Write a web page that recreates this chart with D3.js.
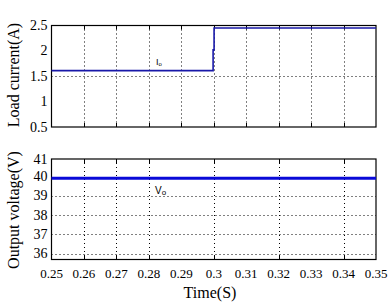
<!DOCTYPE html>
<html>
<head>
<meta charset="utf-8">
<script src="https://cdn.jsdelivr.net/npm/d3@7"></script>
<style>
  body { margin: 0; background: #fff; }
</style>
</head>
<body>
<div id="chart"></div>
<script>
// values
var timeTicks = [0.25, 0.26, 0.27, 0.28, 0.29, 0.30, 0.31, 0.32, 0.33, 0.34, 0.35];
var timeLabels = ["0.25", "0.26", "0.27", "0.28", "0.29", "0.3", "0.31", "0.32", "0.33", "0.34", "0.35"];
var bottomGridTimes = [0.26, 0.27, 0.28, 0.30, 0.32, 0.34];

var currentTime = [0.25, 0.2998, 0.3001, 0.35];
var currentVal = [1.61, 2.02, 2.45, 2.45];
var currentTicks = [0.5, 1, 1.5, 2, 2.5];
var currentGrid = [1.5];

var voltTime = [0.25, 0.35];
var voltVal = [39.9, 39.9];
var voltTicks = [36, 37, 38, 39, 40, 41];
var voltGrid = [36, 37, 38, 39];

var serif = "'Liberation Serif', 'Times New Roman', 'DejaVu Serif', serif";
var width = 390, height = 304;
var left = 51.5, right = 376;

var svg = d3.select("#chart")
  .append("svg")
  .attr("width", width)
  .attr("height", height)
  .attr("font-family", serif)

var x = d3.scaleLinear()
  .domain([0.25, 0.35])
  .range([left, right])

var yTop = d3.scaleLinear()
  .domain([0.5, 2.5])
  .range([127, 25.5])

var yBot = d3.scaleLinear()
  .domain([35.7, 40.9])
  .range([259.5, 159])
  .clamp(true)

function panel(y, ticks, grid, vgrid, xticks) {
  var g = svg.append("g")
  var y0 = y.range()[0], y1 = y.range()[1]

  // grid lines
  g.selectAll(".hg").data(grid).enter().append("line")
    .attr("x1", left).attr("x2", right)
    .attr("y1", function (d) { return Math.round(y(d)) + 0.5 })
    .attr("y2", function (d) { return Math.round(y(d)) + 0.5 })
    .attr("stroke", "#000").attr("stroke-width", 1)
    .attr("stroke-dasharray", "1,3")
  g.selectAll(".vg").data(vgrid).enter().append("line")
    .attr("x1", function (d) { return Math.round(x(d)) + 0.5 })
    .attr("x2", function (d) { return Math.round(x(d)) + 0.5 })
    .attr("y1", y1).attr("y2", y0)
    .attr("stroke", "#000").attr("stroke-width", 1)
    .attr("stroke-dasharray", "1,3")

  // tick marks on bottom and top edges
  g.selectAll(".xt").data(xticks).enter().append("line")
    .attr("x1", function (d) { return Math.round(x(d)) + 0.5 })
    .attr("x2", function (d) { return Math.round(x(d)) + 0.5 })
    .attr("y1", y0).attr("y2", y0 - 4)
    .attr("stroke", "#000")
  g.selectAll(".xt2").data(xticks).enter().append("line")
    .attr("x1", function (d) { return Math.round(x(d)) + 0.5 })
    .attr("x2", function (d) { return Math.round(x(d)) + 0.5 })
    .attr("y1", y1).attr("y2", y1 + 4)
    .attr("stroke", "#000")

  // y tick labels
  g.selectAll(".yl").data(ticks).enter().append("text")
    .attr("x", left - 4)
    .attr("y", function (d) { return y(d) + 4.5 })
    .attr("text-anchor", "end")
    .attr("font-size", 14)
    .text(function (d) { return d })

  // box
  g.append("rect")
    .attr("x", left).attr("y", y1)
    .attr("width", right - left).attr("height", y0 - y1)
    .attr("fill", "none").attr("stroke", "#000").attr("stroke-width", 1.2)
  return g
}

panel(yTop, currentTicks, currentGrid, timeTicks.slice(1, -1), timeTicks.slice(1, -1))
panel(yBot, voltTicks, voltGrid, bottomGridTimes, bottomGridTimes)

// load current trace
var curPts = currentTime.map(function (t, i) { return [t, currentVal[i]] })
svg.append("path")
  .datum(curPts)
  .attr("fill", "none")
  .attr("stroke", "#1818a8")
  .attr("stroke-width", 1.6)
  .attr("d", d3.line()
    .x(function (d) { return x(d[0]) })
    .y(function (d) { return yTop(d[1]) })
    .curve(d3.curveStepAfter))

// output voltage trace
var voltPts = voltTime.map(function (t, i) { return [t, voltVal[i]] })
svg.append("path")
  .datum(voltPts)
  .attr("fill", "none")
  .attr("stroke", "#0a0ad8")
  .attr("stroke-width", 3)
  .attr("d", d3.line()
    .x(function (d) { return x(d[0]) })
    .y(function (d) { return yBot(d[1]) }))

// series labels
svg.append("text").attr("x", 156).attr("y", 65)
  .attr("font-family", "Arial, 'Liberation Sans', sans-serif").attr("font-size", 9)
  .html('I<tspan font-size="6px" dy="1">o</tspan>')
svg.append("text").attr("x", 155).attr("y", 194)
  .attr("font-family", "Arial, 'Liberation Sans', sans-serif").attr("font-size", 10)
  .html('V<tspan font-size="8px" dy="1">o</tspan>')

// x tick labels
svg.selectAll(".xlab").data(timeTicks).enter().append("text")
  .attr("x", function (d) { return x(d) })
  .attr("y", 278)
  .attr("text-anchor", "middle")
  .attr("font-size", 13)
  .text(function (d, i) { return timeLabels[i] })

// axis titles
svg.append("text")
  .attr("x", 210).attr("y", 298)
  .attr("text-anchor", "middle")
  .attr("font-size", 16)
  .text("Time(S)")

svg.append("text")
  .attr("transform", "translate(19,75) rotate(-90)")
  .attr("text-anchor", "middle")
  .attr("font-size", 16)
  .text("Load current(A)")

svg.append("text")
  .attr("transform", "translate(19,210) rotate(-90)")
  .attr("text-anchor", "middle")
  .attr("font-size", 16)
  .text("Output voltage(V)")
</script>
</body>
</html>
